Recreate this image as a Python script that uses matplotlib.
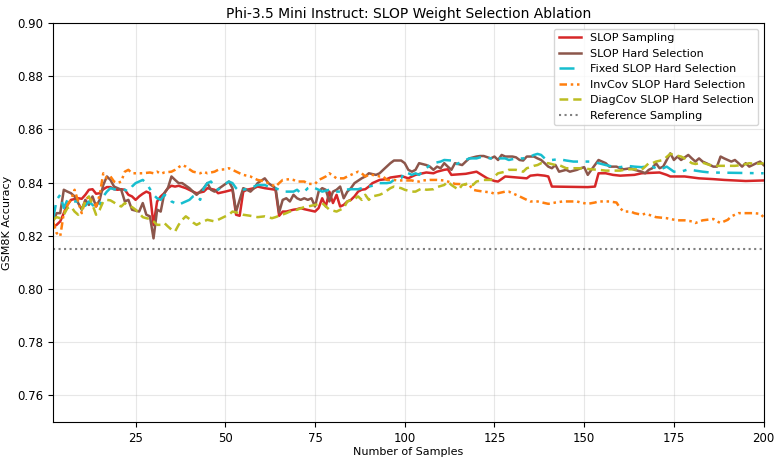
import matplotlib

matplotlib.use("Agg")
import matplotlib.pyplot as plt  # noqa: E402

# values
sampling_x = [2, 3, 4, 5, 6, 7, 8, 9, 10, 11, 12, 13, 14, 15, 16, 17, 18, 19, 20, 21, 22, 23, 24, 25, 26, 27,
              28, 29, 30, 31, 32, 33, 34, 35,
              36, 37, 39, 41, 42, 44, 45, 47, 48, 50, 52, 53, 54, 55, 56, 58, 59, 61, 63, 64, 65, 66, 67, 69,
              70, 71, 72, 74, 75, 76, 77, 78, 79, 80, 81, 82, 83, 84, 85, 86, 87, 88, 89, 90, 91, 93, 95, 96,
              98, 99, 101, 102,
              103, 105, 106, 108, 109, 111, 112, 113, 117, 120, 123, 125, 126, 128, 134, 135,
              137, 139, 140, 141, 151, 153, 154, 156, 158, 160, 164, 166,
              171, 173, 174, 178, 182, 186, 189, 195, 200]
sampling_y = [0.8233, 0.8241, 0.8254, 0.8285, 0.8316, 0.8335, 0.8338, 0.8341, 0.8339, 0.8354, 0.8373, 0.8375,
              0.8358, 0.8360, 0.8375, 0.8383, 0.8383, 0.8375, 0.8373, 0.8375, 0.8373, 0.8354, 0.8348, 0.8335,
              0.8348, 0.8358, 0.8366, 0.8360, 0.8240, 0.8329, 0.8348, 0.8360, 0.8379, 0.8388,
              0.8385, 0.8388, 0.8379, 0.8366, 0.8360, 0.8366, 0.8379, 0.8373, 0.8360, 0.8366, 0.8373, 0.8279,
              0.8275, 0.8366, 0.8373, 0.8379, 0.8385, 0.8379, 0.8375, 0.8373, 0.8275, 0.8291, 0.8291, 0.8298,
              0.8300, 0.8304, 0.8300, 0.8294, 0.8291, 0.8304, 0.8341, 0.8310, 0.8366, 0.8323, 0.8354, 0.8310,
              0.8316, 0.8329, 0.8335, 0.8348, 0.8366, 0.8373, 0.8375, 0.8385, 0.8398, 0.8410, 0.8413, 0.8419,
              0.8423, 0.8425, 0.8416, 0.8423,
              0.8429, 0.8435, 0.8438, 0.8435, 0.8441, 0.8448, 0.8450, 0.8429, 0.8433, 0.8441, 0.8416, 0.8406,
              0.8404, 0.8423, 0.8416, 0.8426,
              0.8429, 0.8426, 0.8423, 0.8385, 0.8383, 0.8385, 0.8435, 0.8435, 0.8429, 0.8426, 0.8429, 0.8435,
              0.8438, 0.8429, 0.8423, 0.8423, 0.8416, 0.8413, 0.8410, 0.8406, 0.8408]

hard_x = [2, 3, 4, 5, 6, 7, 8, 9, 10, 11, 12, 13, 14, 15, 16, 17, 18, 19, 20, 21, 22, 23, 24, 26, 27, 28, 29,
          30, 31, 32, 33, 34, 35,
          36, 37, 38, 40, 41, 42, 43, 44, 45, 46, 47, 49, 51, 52, 53, 54, 55, 56, 57, 58, 59, 61, 62, 64, 65,
          66, 67, 68, 69,
          70, 71, 72, 73, 74, 75, 76, 77, 78, 79, 80, 81, 82, 83, 84, 85, 86, 88, 89, 90, 92, 93, 94, 96, 97,
          99, 100, 101, 102,
          103, 104, 106, 107, 108, 109, 110, 111, 112, 113, 114, 116, 117, 118, 120, 121, 122, 124, 125, 126,
          127, 128, 130, 131, 132, 133, 134, 136,
          137, 138, 139, 140, 141, 142, 143, 145, 146, 148, 149, 150, 151, 152, 154, 155, 156, 157, 159, 160,
          161, 163, 164, 166, 167, 168, 169,
          170, 171, 172, 174, 175, 176, 177, 179, 180, 181, 182, 183, 184, 186, 187, 188, 189, 191, 192, 193,
          194, 195, 196, 198, 199, 200]
hard_y = [0.8254, 0.8285, 0.8285, 0.8373, 0.8366, 0.8360, 0.8348, 0.8323, 0.8298, 0.8335, 0.8316, 0.8348,
          0.8310, 0.8335, 0.8391, 0.8423, 0.8410, 0.8385, 0.8379, 0.8373, 0.8329, 0.8335, 0.8298, 0.8291,
          0.8323, 0.8279, 0.8273, 0.8190, 0.8298, 0.8291, 0.8360, 0.8379, 0.8423,
          0.8410, 0.8398, 0.8398, 0.8379, 0.8366, 0.8354, 0.8366, 0.8379, 0.8398, 0.8373, 0.8366, 0.8385,
          0.8404, 0.8379, 0.8291, 0.8335, 0.8379, 0.8373, 0.8366, 0.8379, 0.8398, 0.8416, 0.8398, 0.8379,
          0.8288, 0.8335, 0.8341, 0.8329, 0.8354,
          0.8341, 0.8335, 0.8341, 0.8335, 0.8341, 0.8310, 0.8366, 0.8379, 0.8373, 0.8329, 0.8366, 0.8373,
          0.8385, 0.8341, 0.8366, 0.8379, 0.8398, 0.8416, 0.8423, 0.8435, 0.8429, 0.8435, 0.8448, 0.8473,
          0.8483, 0.8483, 0.8473, 0.8448, 0.8441,
          0.8448, 0.8473, 0.8466, 0.8460, 0.8448, 0.8460, 0.8454, 0.8473, 0.8460, 0.8448, 0.8473, 0.8466,
          0.8479, 0.8491, 0.8498, 0.8500, 0.8500, 0.8491, 0.8498, 0.8485, 0.8504, 0.8498, 0.8498, 0.8495,
          0.8485, 0.8483, 0.8498, 0.8498,
          0.8491, 0.8485, 0.8473, 0.8460, 0.8454, 0.8466, 0.8441, 0.8448, 0.8441, 0.8448, 0.8454, 0.8458,
          0.8429, 0.8448, 0.8485, 0.8479, 0.8473, 0.8460, 0.8460, 0.8454, 0.8450, 0.8454, 0.8448, 0.8441,
          0.8435, 0.8448, 0.8454,
          0.8473, 0.8454, 0.8460, 0.8510, 0.8485, 0.8498, 0.8485, 0.8504, 0.8491, 0.8479, 0.8491, 0.8479,
          0.8473, 0.8460, 0.8460, 0.8498, 0.8491, 0.8479, 0.8485, 0.8473, 0.8460, 0.8473, 0.8460, 0.8473,
          0.8479, 0.8466]

fixed_x = [2, 3, 4, 5, 6, 7, 8, 9, 10, 11, 12, 13, 14, 15, 16, 17, 18, 19, 20, 22, 23, 24, 25, 27, 28, 30,
           31, 32, 33, 34, 35,
           36, 37, 38, 39, 40, 41, 42, 43, 44, 45, 46, 47, 48, 49, 51, 52, 53, 54, 55, 57, 58, 59, 61, 62,
           64, 65, 66, 69,
           70, 71, 72, 73, 74, 76, 77, 79, 80, 82, 83, 85, 87, 88, 89, 90, 92, 93, 95, 96, 97, 99, 100, 101,
           102,
           103, 104, 106, 107, 108, 110, 111, 113, 114, 115, 117, 118, 120, 121, 122, 124, 125, 126, 128,
           129, 130, 132, 133, 135,
           136, 137, 138, 139, 141, 143, 145, 147, 150, 152, 154, 156, 158, 160, 162, 164, 166, 167,
           169, 171, 172, 173, 175, 177, 179, 181, 183, 185, 200]
fixed_y = [0.8260, 0.8335, 0.8354, 0.8304, 0.8335, 0.8329, 0.8329, 0.8329, 0.8310, 0.8313, 0.8329, 0.8316,
           0.8304, 0.8316, 0.8348, 0.8366, 0.8379, 0.8375, 0.8373, 0.8373, 0.8366, 0.8385, 0.8398, 0.8410,
           0.8398, 0.8354, 0.8341, 0.8335, 0.8354, 0.8348, 0.8329,
           0.8323, 0.8316, 0.8323, 0.8329, 0.8335, 0.8348, 0.8354, 0.8335, 0.8379, 0.8398, 0.8404, 0.8385,
           0.8373, 0.8385, 0.8404, 0.8398, 0.8379, 0.8366, 0.8373, 0.8379, 0.8385, 0.8391, 0.8391, 0.8385,
           0.8379, 0.8373, 0.8366, 0.8366,
           0.8373, 0.8360, 0.8366, 0.8379, 0.8385, 0.8373, 0.8366, 0.8373, 0.8366, 0.8366, 0.8373, 0.8375,
           0.8375, 0.8379, 0.8383, 0.8385, 0.8391, 0.8398, 0.8398, 0.8400, 0.8410, 0.8416, 0.8441, 0.8435,
           0.8429,
           0.8435, 0.8429, 0.8454, 0.8466, 0.8473, 0.8479, 0.8485, 0.8483, 0.8466, 0.8473, 0.8485, 0.8491,
           0.8491, 0.8495, 0.8495, 0.8491, 0.8498, 0.8491, 0.8491, 0.8485, 0.8488, 0.8491, 0.8491, 0.8498,
           0.8504, 0.8508, 0.8504, 0.8491, 0.8485, 0.8488, 0.8483, 0.8479, 0.8479, 0.8479, 0.8473, 0.8466,
           0.8460, 0.8458, 0.8463, 0.8460, 0.8458, 0.8460,
           0.8460, 0.8448, 0.8454, 0.8460, 0.8441, 0.8441, 0.8450, 0.8445, 0.8441, 0.8438, 0.8435]

invcov_x = [2, 3, 4, 5, 6, 7, 8, 9, 10, 11, 12, 13, 14, 15, 16, 17, 18, 19, 20, 21, 22, 23, 24, 27, 29, 30,
            31, 32, 33, 35,
            36, 37, 38, 39, 40, 41, 43, 44, 45, 47, 48, 50, 51, 52, 54, 55, 57, 58, 59, 61, 62, 64, 65, 66,
            68, 69,
            70, 72, 73, 75, 76, 77, 78, 79, 81, 83, 84, 86, 87, 88, 89, 90, 91, 93, 94, 95, 97, 98, 100, 102,
            103, 104, 105, 107, 109, 111, 113, 114, 116, 118, 119, 120, 122, 124, 125, 126, 128, 129, 131,
            132, 134, 135,
            137, 139, 140, 142, 144, 148, 149, 151, 153, 154, 157, 159, 160, 161, 163, 164, 166, 167,
            168, 170, 173, 174, 176, 178, 180, 181, 183, 186, 187, 188, 190, 191, 193, 195, 197, 199, 200]
invcov_y = [0.8254, 0.8210, 0.8198, 0.8285, 0.8316, 0.8335, 0.8373, 0.8329, 0.8285, 0.8335, 0.8348, 0.8329,
            0.8310, 0.8354, 0.8435, 0.8416, 0.8423, 0.8404, 0.8398, 0.8404, 0.8441, 0.8448, 0.8435, 0.8435,
            0.8438, 0.8435, 0.8441, 0.8433, 0.8438, 0.8441,
            0.8448, 0.8458, 0.8466, 0.8460, 0.8450, 0.8441, 0.8435, 0.8441, 0.8435, 0.8441, 0.8448, 0.8450,
            0.8454, 0.8448, 0.8435, 0.8429, 0.8423, 0.8416, 0.8410, 0.8404, 0.8398, 0.8385, 0.8398, 0.8410,
            0.8413, 0.8410,
            0.8404, 0.8404, 0.8395, 0.8395, 0.8410, 0.8416, 0.8423, 0.8435, 0.8416, 0.8416, 0.8423, 0.8435,
            0.8441, 0.8435, 0.8423, 0.8429, 0.8429, 0.8423, 0.8423, 0.8410, 0.8410, 0.8408, 0.8408, 0.8408,
            0.8404, 0.8404, 0.8408, 0.8410, 0.8410, 0.8408, 0.8400, 0.8395, 0.8394, 0.8391, 0.8373, 0.8370,
            0.8366, 0.8363, 0.8358, 0.8360, 0.8366, 0.8366, 0.8354, 0.8348, 0.8335, 0.8329,
            0.8329, 0.8323, 0.8320, 0.8325, 0.8329, 0.8329, 0.8325, 0.8320, 0.8325, 0.8329, 0.8329, 0.8325,
            0.8304, 0.8291, 0.8291, 0.8285, 0.8279, 0.8283,
            0.8279, 0.8270, 0.8266, 0.8263, 0.8258, 0.8258, 0.8254, 0.8248, 0.8258, 0.8263, 0.8254, 0.8248,
            0.8260, 0.8273, 0.8285, 0.8285, 0.8285, 0.8283, 0.8270]

diagcov_x = list(range(2, 37)) + [
    37, 38, 39, 40, 41, 42, 43, 44, 45, 47, 48, 50, 51, 52, 53, 55, 57, 59, 61, 63, 64, 65, 67, 68, 69,
    70, 72, 73, 75, 77, 79, 81, 83, 84, 86, 87, 88, 89, 90, 91, 93, 94, 96, 97, 99, 100, 102,
    103, 104, 105, 106, 108, 109, 111, 112, 113, 115, 116, 118, 119, 120, 122, 124, 125, 126, 128, 129,
    131, 133, 134, 135, 136, 137,
    138, 140, 142, 143, 145, 149, 152, 154, 156, 160, 162, 164, 166, 167, 168, 169,
    170, 172, 174, 175, 177, 178, 180, 181, 183, 185, 187, 192, 194, 196, 198, 200]
diagcov_y = [0.8260, 0.8270, 0.8266, 0.8279, 0.8304, 0.8310, 0.8291, 0.8279, 0.8298, 0.8329, 0.8348, 0.8316,
             0.8279, 0.8298, 0.8329, 0.8335, 0.8333, 0.8325, 0.8316, 0.8310, 0.8323, 0.8313, 0.8308, 0.8298,
             0.8285, 0.8270, 0.8266, 0.8263, 0.8254, 0.8241, 0.8241, 0.8248, 0.8235, 0.8223, 0.8216,
             0.8241, 0.8260, 0.8273, 0.8263, 0.8250, 0.8241, 0.8248, 0.8254, 0.8260, 0.8254, 0.8260, 0.8273,
             0.8279, 0.8291, 0.8288, 0.8279, 0.8275, 0.8270, 0.8273, 0.8266, 0.8270, 0.8275, 0.8285, 0.8291,
             0.8295,
             0.8298, 0.8308, 0.8310, 0.8316, 0.8323, 0.8298, 0.8291, 0.8304, 0.8329, 0.8338, 0.8348, 0.8335,
             0.8354, 0.8335, 0.8348, 0.8354, 0.8360, 0.8379, 0.8385, 0.8379, 0.8373, 0.8366,
             0.8366, 0.8373, 0.8379, 0.8373, 0.8375, 0.8383, 0.8391, 0.8404, 0.8391, 0.8373, 0.8391, 0.8398,
             0.8391, 0.8404, 0.8410, 0.8410, 0.8423, 0.8435, 0.8441, 0.8448, 0.8448, 0.8441, 0.8454, 0.8458,
             0.8463, 0.8466,
             0.8473, 0.8473, 0.8466, 0.8466, 0.8454, 0.8454, 0.8450, 0.8448, 0.8445, 0.8445, 0.8450, 0.8450,
             0.8448, 0.8460, 0.8473, 0.8473,
             0.8479, 0.8485, 0.8508, 0.8504, 0.8498, 0.8491, 0.8473, 0.8470, 0.8475, 0.8466, 0.8463, 0.8463,
             0.8466, 0.8473, 0.8470, 0.8473]

reference_acc = 0.815

fig, ax = plt.subplots(figsize=(7.8, 4.62), dpi=100)
fig.subplots_adjust(left=0.068, right=0.979, top=0.950, bottom=0.087)

ax.plot(sampling_x, sampling_y, color="#d62728", lw=1.8, label="SLOP Sampling")
ax.plot(hard_x, hard_y, color="#8c564b", lw=1.8, label="SLOP Hard Selection")
ax.plot(fixed_x, fixed_y, color="#17becf", lw=1.8, ls=(0, (6, 3, 1.5, 3)),
        label="Fixed SLOP Hard Selection")
ax.plot(invcov_x, invcov_y, color="#ff7f0e", lw=1.8, ls=(0, (3, 1.5, 1, 1.5, 1, 1.5)),
        label="InvCov SLOP Hard Selection")
ax.plot(diagcov_x, diagcov_y, color="#bcbd22", lw=1.8, ls=(0, (3.5, 2)),
        label="DiagCov SLOP Hard Selection")
ax.axhline(reference_acc, color="gray", lw=1.5, ls=":", label="Reference Sampling")

ax.set_xlim(2, 200)
ax.set_ylim(0.75, 0.90)
ax.set_xlabel("Number of Samples", fontsize=8, labelpad=2)
ax.set_ylabel("GSM8K Accuracy", fontsize=8)
ax.set_title("Phi-3.5 Mini Instruct: SLOP Weight Selection Ablation", fontsize=10, pad=4)
ax.tick_params(labelsize=8.5)
ax.grid(True, alpha=0.3)
ax.legend(loc="upper right", fontsize=8)

fig.savefig("out.png", dpi=100)
